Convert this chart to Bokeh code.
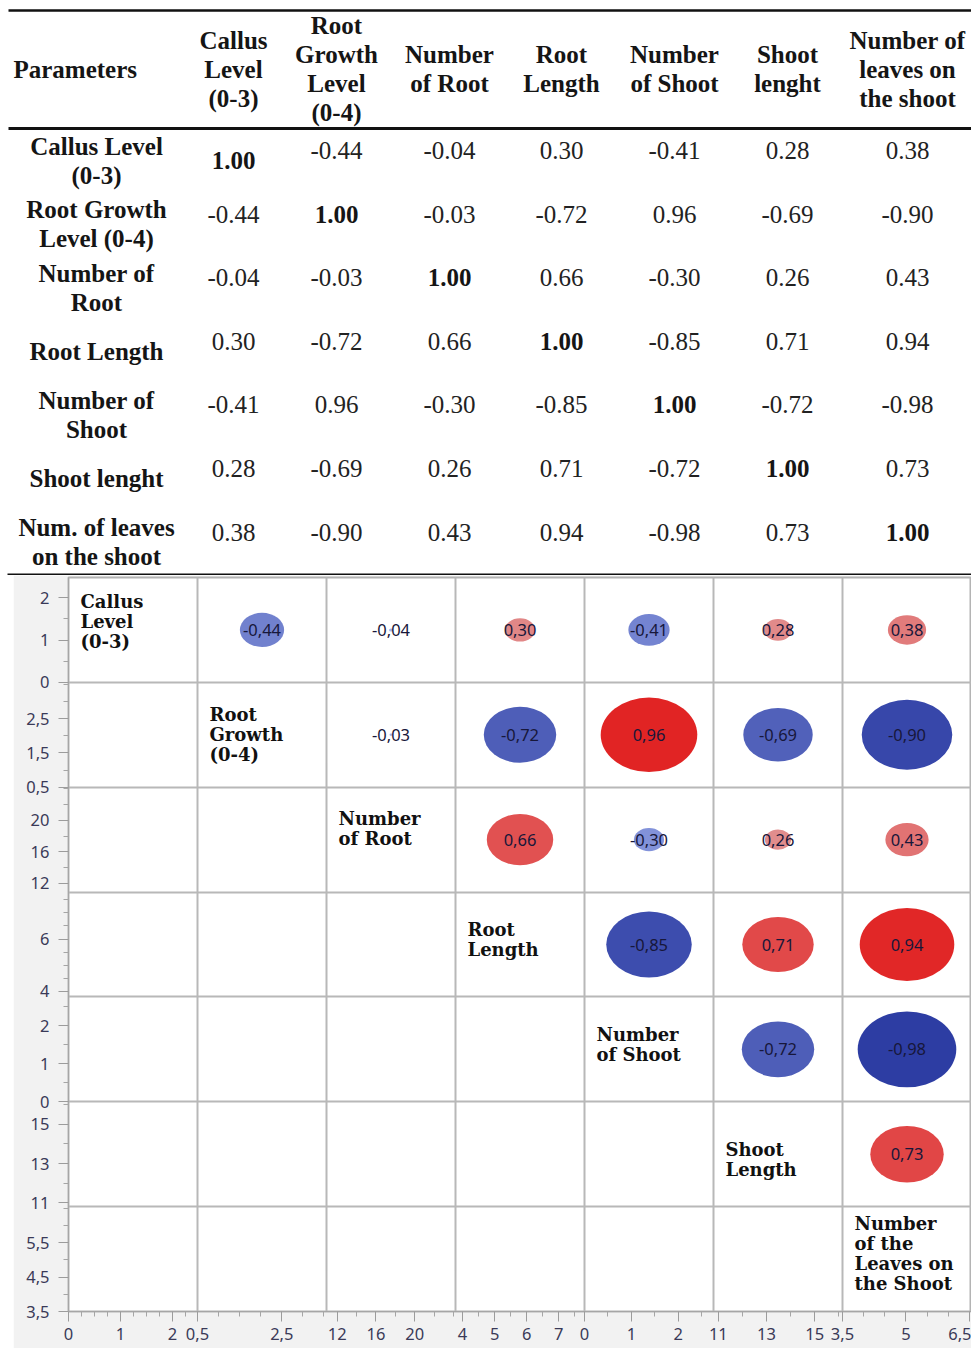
import numpy as np
from bokeh.plotting import figure
from bokeh.layouts import column, row
from bokeh.models import Range1d, FixedTicker, Spacer, ColumnDataSource
from bokeh.core.properties import value
from bokeh.embed import file_html
from bokeh.resources import INLINE

# ---------------------------------------------------------------------------
# Pearson correlation coefficients between the seven growth parameters
# ---------------------------------------------------------------------------
callus_level    = [1.00, -0.44, -0.04, 0.30, -0.41, 0.28, 0.38]
root_growth     = [-0.44, 1.00, -0.03, -0.72, 0.96, -0.69, -0.90]
number_of_root  = [-0.04, -0.03, 1.00, 0.66, -0.30, 0.26, 0.43]
root_length     = [0.30, -0.72, 0.66, 1.00, -0.85, 0.71, 0.94]
number_of_shoot = [-0.41, 0.96, -0.30, -0.85, 1.00, -0.72, -0.98]
shoot_length    = [0.28, -0.69, 0.26, 0.71, -0.72, 1.00, 0.73]
leaves_on_shoot = [0.38, -0.90, 0.43, 0.94, -0.98, 0.73, 1.00]
corr = [callus_level, root_growth, number_of_root, root_length,
        number_of_shoot, shoot_length, leaves_on_shoot]

# table texts
header_lines = [["Callus", "Level", "(0-3)"],
                ["Root", "Growth", "Level", "(0-4)"],
                ["Number", "of Root"],
                ["Root", "Length"],
                ["Number", "of Shoot"],
                ["Shoot", "lenght"],
                ["Number of", "leaves on", "the shoot"]]
row_label_lines = [["Callus Level", "(0-3)"],
                   ["Root Growth", "Level (0-4)"],
                   ["Number of", "Root"],
                   ["Root Length"],
                   ["Number of", "Shoot"],
                   ["Shoot lenght"],
                   ["Num. of leaves", "on the shoot"]]

# matrix diagonal names
diag_label_lines = [["Callus", "Level", "(0-3)"],
                    ["Root", "Growth", "(0-4)"],
                    ["Number", "of Root"],
                    ["Root", "Length"],
                    ["Number", "of Shoot"],
                    ["Shoot", "Length"],
                    ["Number", "of the", "Leaves on", "the Shoot"]]

# measurement scale of each parameter (used for the per-row / per-column axes)
scale_lo = [0.0, 0.5, 10.9, 3.78, 0.0, 10.8, 3.5]
scale_hi = [2.48, 3.56, 24.2, 7.8, 2.75, 16.15, 6.55]
y_major = [[0, 1, 2], [0.5, 1.5, 2.5], [12, 16, 20], [4, 6], [0, 1, 2],
           [11, 13, 15], [3.5, 4.5, 5.5]]
y_minor_step = [0.5, 0.5, 2, 0.5, 0.5, 1, 0.5]
x_major = [[0, 1, 2], [0.5, 2.5], [12, 16, 20], [4, 5, 6, 7], [0, 1, 2],
           [11, 13, 15], [3.5, 5, 6.5]]
x_minor_step = [0.25, 0.5, 2, 0.5, 0.5, 1, 0.5]

N = len(corr)
W = 971
TABLE_H = 575
PAGE_H = 1348
SERIF = value("Liberation Serif")
SANS = value("Noto Sans")

# ---------------------------------------------------------------------------
# Correlation table (pixel-based layout)
# ---------------------------------------------------------------------------
tbl = figure(width=W, height=TABLE_H, x_range=Range1d(0, W), y_range=Range1d(TABLE_H, 0),
             x_axis_type=None, y_axis_type=None, toolbar_location=None,
             output_backend="svg", min_border=0, outline_line_color=None)
tbl.grid.visible = False

# horizontal rules
tbl.segment(x0=[8, 8, 7], y0=[10, 128, 574], x1=[W, W, W], y1=[10, 128, 574],
            line_color="#111111", line_width=[2.5, 3, 2])

col_x = [233, 336, 449, 561, 674, 787, 907]
label_x = 96
head_cy, line_gap = 68.5, 29
val_y0, val_dy = 150, 63.6
diag_shift = [10, 0, 0, 0, 0, 0, 0]
FS = "25px"

hx, hy, ht = [], [], []
for j, lines in enumerate(header_lines):
    n = len(lines)
    for k, s in enumerate(lines):
        hx.append(col_x[j])
        hy.append(head_cy + (k - (n - 1) / 2) * line_gap)
        ht.append(s)
tbl.text(x=hx, y=hy, text=ht, text_font=SERIF, text_font_style="bold",
         text_font_size=FS, text_align="center", text_baseline="middle",
         text_color="#151515")
tbl.text(x=[13], y=[head_cy], text=["Parameters"], text_font=SERIF,
         text_font_style="bold", text_font_size=FS, text_align="left",
         text_baseline="middle", text_color="#151515")

rx, ry, rt = [], [], []
for i, lines in enumerate(row_label_lines):
    n = len(lines)
    cy = val_y0 + i * val_dy + 10
    for k, s in enumerate(lines):
        rx.append(label_x)
        ry.append(cy + (k - (n - 1) / 2) * line_gap)
        rt.append(s)
tbl.text(x=rx, y=ry, text=rt, text_font=SERIF, text_font_style="bold",
         text_font_size=FS, text_align="center", text_baseline="middle",
         text_color="#151515")

vx, vy, vt, dx, dy, dt = [], [], [], [], [], []
for i, vals in enumerate(corr):
    for j, v in enumerate(vals):
        y = val_y0 + i * val_dy
        if i == j:
            dx.append(col_x[j]); dy.append(y + diag_shift[i]); dt.append(f"{v:.2f}")
        else:
            vx.append(col_x[j]); vy.append(y); vt.append(f"{v:.2f}")
tbl.text(x=vx, y=vy, text=vt, text_font=SERIF, text_font_size=FS,
         text_align="center", text_baseline="middle", text_color="#222222")
tbl.text(x=dx, y=dy, text=dt, text_font=SERIF, text_font_style="bold",
         text_font_size=FS, text_align="center", text_baseline="middle",
         text_color="#151515")

# ---------------------------------------------------------------------------
# Correlation matrix of ellipses
# ---------------------------------------------------------------------------
def fmt(v):
    v = float(v)
    s = str(int(v)) if v.is_integer() else f"{v:g}"
    return s.replace(".", ",")


def minor_values(lo, hi, step, majors):
    start = np.ceil(lo / step) * step
    vals = np.round(np.arange(start, hi + 1e-9, step), 6)
    return [float(v) for v in vals if all(abs(v - m) > 1e-9 for m in majors)]


y_pos, y_lab, y_min = [], [], []
x_pos, x_lab, x_min = [], [], []
for k in range(N):
    lo, hi = scale_lo[k], scale_hi[k]
    for v in y_major[k]:
        y_pos.append(round(k + (hi - v) / (hi - lo), 6)); y_lab.append(fmt(v))
    for v in minor_values(lo, hi, y_minor_step[k], y_major[k]):
        y_min.append(round(k + (hi - v) / (hi - lo), 6))
    for v in x_major[k]:
        x_pos.append(round(k + (v - lo) / (hi - lo), 6)); x_lab.append(fmt(v))
    for v in minor_values(lo, hi, x_minor_step[k], x_major[k]):
        x_min.append(round(k + (v - lo) / (hi - lo), 6))

M_W = W - 13
M_H = PAGE_H - TABLE_H
mat = figure(width=M_W, height=M_H, x_range=Range1d(0, N), y_range=Range1d(N, 0),
             toolbar_location=None, output_backend="svg",
             min_border_left=55, min_border_right=0, min_border_top=2, min_border_bottom=37,
             background_fill_color="white", border_fill_color="#f2f2f2",
             outline_line_color="#b4b4b4", outline_line_width=2)

for g in (mat.xgrid, mat.ygrid):
    g.ticker = FixedTicker(ticks=list(range(1, N)))
    g.grid_line_color = "#b8b8b8"
    g.grid_line_width = 2

for ax, pos, lab, mn, standoff in ((mat.yaxis[0], y_pos, y_lab, y_min, 9),
                                   (mat.xaxis[0], x_pos, x_lab, x_min, 6)):
    ax.ticker = FixedTicker(ticks=pos, minor_ticks=mn)
    ax.major_label_overrides = dict(zip(pos, lab))
    ax.axis_line_color = "#a6a6a6"
    ax.major_tick_line_color = "#9c9c9c"
    ax.minor_tick_line_color = "#a6a6a6"
    ax.major_tick_in = 0
    ax.major_tick_out = 10
    ax.minor_tick_in = 0
    ax.minor_tick_out = 5
    ax.major_label_text_font = "Noto Sans"
    ax.major_label_text_font_size = "16.5px"
    ax.major_label_text_color = "#3a3a58"
    ax.major_label_standoff = standoff


def corr_color(r):
    t = abs(r)
    if r >= 0:
        g = int(max(0, 180 - 150 * t))
        return "#%02x%02x%02x" % (225, g, g)
    rr = int(max(0, 168 - 125 * t))
    return "#%02x%02x%02x" % (rr, min(255, rr + 16), int(242 - 80 * t))


ex, ey, ew, eh, ec, el = [], [], [], [], [], []
for i in range(N):
    for j in range(i + 1, N):
        r = corr[i][j]
        ex.append(j + 0.5)
        ey.append(i + 0.5)
        ew.append(abs(r) * 0.78)
        eh.append(abs(r) * 0.74)
        ec.append(corr_color(r))
        el.append(f"{r:.2f}".replace(".", ","))
src = ColumnDataSource(dict(x=ex, y=ey, w=ew, h=eh, c=ec, lab=el))
mat.ellipse(x="x", y="y", width="w", height="h", fill_color="c", line_color=None, source=src)
mat.text(x="x", y="y", text="lab", source=src, text_font=SANS, text_font_size="16.5px",
         text_align="center", text_baseline="middle", text_color="#17173a")

# names on the diagonal, anchored at each cell's top-left corner
first_line = [24, 32, 31, 37, 38, 48, 17]
dgx, dgy, dgt, dgoff = [], [], [], []
for i, lines in enumerate(diag_label_lines):
    for k, s in enumerate(lines):
        dgx.append(i); dgy.append(i); dgt.append(s)
        dgoff.append(first_line[i] + k * 20)
dsrc = ColumnDataSource(dict(x=dgx, y=dgy, t=dgt, off=dgoff))
mat.text(x="x", y="y", text="t", y_offset="off", x_offset=12, source=dsrc,
         text_font=value("DejaVu Serif"), text_font_style="bold", text_font_size="18px",
         text_align="left", text_baseline="middle", text_color="#111111")

layout = column(tbl, row(Spacer(width=13, height=M_H), mat))

with open("out.html", "w") as f:
    f.write(file_html(layout, INLINE))
